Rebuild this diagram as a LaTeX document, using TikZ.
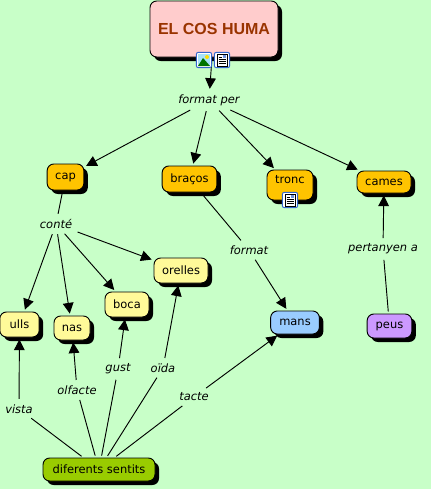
\documentclass[tikz,border=0pt]{standalone}
\usepackage{fontspec}
\setmainfont{DejaVu Sans}
\newfontfamily\titlefont{Liberation Sans}
\usetikzlibrary{arrows.meta,shadows}
\definecolor{bgc}{HTML}{C8FFC8}
\definecolor{orangec}{HTML}{FFC400}
\definecolor{yellowc}{HTML}{FFFA99}
\definecolor{bluec}{HTML}{99CCFF}
\definecolor{purplec}{HTML}{CC99FF}
\definecolor{greenc}{HTML}{99CC00}
\definecolor{pinkc}{HTML}{FFCCCC}
\definecolor{titlec}{HTML}{993300}
\definecolor{iconblue}{HTML}{3366CC}
\tikzset{
  concept/.style={draw=black,line width=0.7pt,rounded corners=5pt,minimum height=#1*0.75pt,inner sep=0pt,align=center,font=\fontsize{8.6}{10}\selectfont,
     drop shadow={shadow xshift=3pt,shadow yshift=-3pt,opacity=1,fill=black}},
  concept/.default=24,
  linklabel/.style={font=\fontsize{8.6}{10}\selectfont\itshape,inner sep=2.5pt,text=black},
  link/.style={line width=0.7pt,black,shorten <=1.5pt,shorten >=1.5pt},
  arrowlink/.style={link,-{Triangle[length=8pt,width=8pt]}},
  iconbox/.style={draw=iconblue,fill=white,rounded corners=1.5pt,minimum size=11.5pt,inner sep=0pt,line width=0.7pt}
}
\newcommand{\docicon}[2]{%
  \fill[white] (#1-5,#2-6) rectangle (#1+5,#2+6);
  \draw[line width=0.5pt,black] (#1-5,#2-6) rectangle (#1+5,#2+6);
  \fill[iconblue!70!white] (#1+1,#2-5) rectangle (#1+4,#2-2);
  \foreach \d in {-1,1,3}{\draw[line width=0.4pt,black] (#1-3.5,#2+\d) -- (#1+3.5,#2+\d);}
  \draw[line width=0.4pt,black] (#1-3.5,#2-3) -- (#1,#2-3);
}
\begin{document}
\begin{tikzpicture}[x=0.75pt,y=-0.75pt]
\useasboundingbox[fill=bgc] (0,0) rectangle (431,489);
% concepts
\node[concept=56,fill=pinkc,minimum width=96pt,font=\titlefont\fontsize{12}{14}\selectfont\bfseries,text=titlec] (title) at (214,29) {EL COS HUMA};
\node[concept=26,fill=orangec,minimum width=27.5pt] (cap) at (65.5,177) {cap};
\node[concept=26,fill=orangec,minimum width=41pt] (bracos) at (189.5,179) {braços};
\node[concept=30,fill=orangec,minimum width=34.5pt,text height=6pt,text depth=9pt] (tronc) at (290,185) {tronc};
\node[concept=22,fill=orangec,minimum width=40.5pt] (cames) at (384,182) {cames};
\node[concept=25,fill=yellowc,minimum width=40.5pt] (orelles) at (181,270.5) {orelles};
\node[concept=25,fill=yellowc,minimum width=29.5pt] (ulls) at (19.5,324.5) {ulls};
\node[concept=24,fill=yellowc,minimum width=27pt] (nas) at (72,328) {nas};
\node[concept=25,fill=yellowc,minimum width=33pt] (boca) at (127,304.5) {boca};
\node[concept=23,fill=bluec,minimum width=36.5pt] (mans) at (295,322.5) {mans};
\node[concept=24,fill=purplec,minimum width=33.5pt] (peus) at (389.5,326) {peus};
\node[concept=23,fill=greenc,minimum width=84pt] (sentits) at (99,469.5) {diferents sentits};
% linking phrases
\node[linklabel] (formatper) at (209,100) {format per};
\node[linklabel] (conte) at (56,224) {conté};
\node[linklabel] (format) at (249,250) {format};
\node[linklabel] (pertanyen) at (383,249) {pertanyen a};
\node[linklabel] (vista) at (19,409) {vista};
\node[linklabel] (olfacte) at (77,390) {olfacte};
\node[linklabel] (gust) at (118,369) {gust};
\node[linklabel] (oida) at (163,368) {oïda};
\node[linklabel] (tacte) at (194,397) {tacte};
% connectors
\draw[arrowlink] (title) -- (formatper);
\draw[arrowlink] (formatper) -- (cap);
\draw[arrowlink] (formatper) -- (bracos);
\draw[arrowlink] (formatper) -- (tronc);
\draw[arrowlink] (formatper) -- (cames);
\draw[arrowlink] (conte) -- (ulls);
\draw[arrowlink] (conte) -- (nas);
\draw[arrowlink] (conte) -- (boca);
\draw[arrowlink] (conte) -- (orelles);
\draw[link] (cap) -- (conte);
\draw[link] (bracos) -- (format);
\draw[arrowlink] (format) -- (mans);
\draw[link] (peus) -- (pertanyen);
\draw[arrowlink] (pertanyen) -- (cames);
\draw[link] (sentits) -- (vista);
\draw[link] (sentits) -- (olfacte);
\draw[link] (sentits) -- (gust);
\draw[link] (sentits) -- (oida);
\draw[link] (sentits) -- (tacte);
\draw[arrowlink] (vista) -- (ulls);
\draw[arrowlink] (olfacte) -- (nas);
\draw[arrowlink] (gust) -- (boca);
\draw[arrowlink] (oida) -- (orelles);
\draw[arrowlink] (tacte) -- (mans);
% icons
\node[iconbox] (imgicon) at (204,60) {};
\fill[cyan!35!white] (198,54) rectangle (210,66);
\fill[yellow!80!orange] (207,57) circle[radius=2];
\fill[green!45!black] (198,66) -- (203,58) -- (210,66) -- cycle;
\node[iconbox] (docone) at (222,60) {};
\docicon{222}{60}
\node[iconbox] (doctwo) at (290,200) {};
\docicon{290}{200}
\end{tikzpicture}
\end{document}
